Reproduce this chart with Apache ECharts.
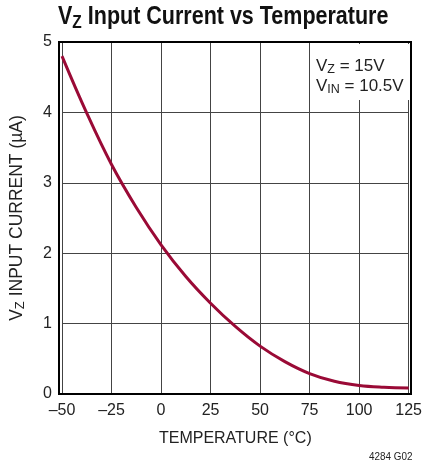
<!DOCTYPE html>
<html><head><meta charset="utf-8">
<script src="https://cdn.jsdelivr.net/npm/echarts@6/dist/echarts.min.js"></script>
<style>html,body{margin:0;padding:0;background:#fff}#c{width:425px;height:465px}</style>
</head><body><div id="c"></div>
<script>
const temps = [-50, -37.5, -25, -12.5, 0, 12.5, 25, 37.5, 50, 62.5, 75, 87.5, 100, 112.5, 125];
const current = [4.80, 3.99, 3.26, 2.65, 2.12, 1.67, 1.29, 0.96, 0.68, 0.46, 0.29, 0.18, 0.12, 0.095, 0.085];
const xTicks = [-50, -25, 0, 25, 50, 75, 100, 125];
const yTicks = [0, 1, 2, 3, 4, 5];

const F = "'Liberation Sans Narrow','Liberation Sans',sans-serif";
const chart = echarts.init(document.getElementById('c'), null, {renderer: 'canvas'});
chart.setOption({
  animation: false,
  grid: {left: 59, right: 14, top: 42, bottom: 71, show: false},
  xAxis: {
    type: 'value', min: -50, max: 125, interval: 25,
    axisLine: {show: false}, axisTick: {show: false},
    splitLine: {show: true, lineStyle: {color: '#444', width: 1}},
    axisLabel: {color: '#222', fontFamily: F, fontSize: 16, margin: 9,
      formatter: v => xTicks.includes(v) ? String(v).replace('-', '\u2013') : ''},
    name: 'TEMPERATURE (°C)', nameLocation: 'middle', nameGap: 37,
    nameTextStyle: {color: '#222', fontFamily: F, fontSize: 16}
  },
  yAxis: {
    type: 'value', min: 0, max: 5, interval: 1,
    axisLine: {show: false}, axisTick: {show: false},
    splitLine: {show: true, lineStyle: {color: '#444', width: 1}},
    axisLabel: {color: '#222', fontFamily: F, fontSize: 16, margin: 10,
      formatter: v => yTicks.includes(v) ? String(v) : ''},
    name: '{a|V}{s|Z}{a| INPUT CURRENT (µA)}', nameLocation: 'middle', nameGap: 35, nameRotate: 90,
    nameTextStyle: {rich: {
      a: {color: '#222', fontFamily: F, fontSize: 17.5, lineHeight: 20},
      s: {color: '#222', fontFamily: F, fontSize: 13, lineHeight: 20, verticalAlign: 'bottom', padding: [6, 0, 0, 0]}
    }}
  },
  series: [{
    type: 'line', data: temps.map((t, i) => [t, current[i]]),
    smooth: 0.4, showSymbol: false,
    lineStyle: {color: '#9a0a36', width: 3}
  }],
  graphic: [
    {type: 'rect', z: 10, shape: {x: 59, y: 42, width: 352, height: 352},
      style: {fill: 'none', stroke: '#000', lineWidth: 2}},
    {type: 'rect', z: 5, shape: {x: 311, y: 44, width: 98, height: 56}, style: {fill: '#fff'}},
    {type: 'text', z: 11, x: 316, y: 56, style: {
      text: '{a|V}{s|Z}{a| = 15V}\n{a|V}{s|IN}{a| = 10.5V}',
      rich: {
        a: {fill: '#222', fontFamily: F, fontSize: 17, lineHeight: 20},
        s: {fill: '#222', fontFamily: F, fontSize: 12.5, lineHeight: 20, verticalAlign: 'bottom', padding: [6, 0, 0, 0]}
      }}},
    {type: 'text', z: 11, x: 58, y: 2, scaleX: 0.86, style: {
      text: '{a|V}{s|Z}{a| Input Current vs Temperature}',
      rich: {
        a: {fill: '#111', fontFamily: F, fontSize: 25, fontWeight: 'bold', lineHeight: 30},
        s: {fill: '#111', fontFamily: F, fontSize: 18, fontWeight: 'bold', lineHeight: 30, verticalAlign: 'bottom', padding: [8, 0, 0, 0]}
      }}},
    {type: 'text', z: 11, x: 369, y: 451, scaleX: 0.9, style: {
      text: '4284 G02', fill: '#222', fontFamily: F, fontSize: 11}}
  ]
});
</script></body></html>
